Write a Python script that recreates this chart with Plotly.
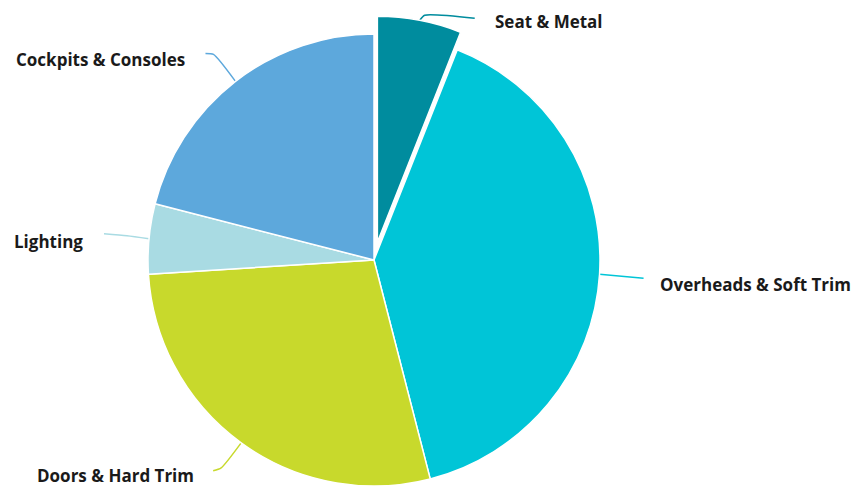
import math
import plotly.graph_objects as go

# ---- data ----
labels = ["Seat & Metal", "Overheads & Soft Trim", "Doors & Hard Trim", "Lighting", "Cockpits & Consoles"]
values = [6, 40, 28, 5, 21]
colors = ["#008C9E", "#00C5D7", "#C8D92C", "#A9DBE3", "#5DA8DC"]
pulled = [True, False, False, False, False]

# ---- layout constants (pixels) ----
W, H = 858, 487
CX, CY, R = 374, 260, 226
PULL_PX = 18
# label placement: text left x, text centre y, elbow offset, end offset (relative to anchor)
label_pos = [(494, 21), (659, 284), (36, 475), (13, 241), (15, 59)]
leader = [((5, -5), (55, -2)), ((22, 2), (44, 4)), ((-20, 25), (-28, 28)), ((-22, -3), (-45, -5)), ((-22, -27), (-30, -28))]

total = sum(values)
# slice mid angles (clockwise from 12 o'clock)
mids = []
acc = 0
for v in values:
    mids.append((acc + v / 2) / total * 2 * math.pi)
    acc += v

def domain(cx, cy):
    return dict(x=[(cx - R) / W, (cx + R) / W], y=[(H - (cy + R)) / H, (H - (cy - R)) / H])

fig = go.Figure()

# main pie (pulled slices transparent)
fig.add_trace(go.Pie(
    labels=labels, values=values, sort=False, direction="clockwise", rotation=0,
    marker=dict(colors=["rgba(0,0,0,0)" if p else c for c, p in zip(colors, pulled)],
                line=dict(color=["rgba(0,0,0,0)" if p else "white" for p in pulled], width=1.5)),
    textinfo="none", hoverinfo="label+percent", showlegend=False,
    domain=domain(CX, CY),
))

# pulled slice(s) drawn as a shifted copy
for i, p in enumerate(pulled):
    if not p:
        continue
    dx = PULL_PX * math.sin(mids[i])
    dy = -PULL_PX * math.cos(mids[i])
    fig.add_trace(go.Pie(
        labels=labels, values=values, sort=False, direction="clockwise", rotation=0,
        marker=dict(colors=[c if j == i else "rgba(0,0,0,0)" for j, c in enumerate(colors)],
                    line=dict(color=["white" if j == i else "rgba(0,0,0,0)" for j in range(len(values))], width=1.5)),
        textinfo="none", hoverinfo="label+percent", showlegend=False,
        domain=domain(CX + dx, CY + dy),
    ))

# leader lines and labels
annotations = []
for i, lab in enumerate(labels):
    off = PULL_PX if pulled[i] else 0
    ax = CX + (R + off) * math.sin(mids[i])
    ay = CY - (R + off) * math.cos(mids[i])
    (ex, ey), (fx, fy) = leader[i]
    fig.add_trace(go.Scatter(
        x=[ax, ax + ex, ax + fx], y=[ay, ay + ey, ay + fy], mode="lines",
        line=dict(color=colors[i], width=1.5, shape="spline", smoothing=0.6),
        hoverinfo="skip", showlegend=False,
    ))
    tx, ty = label_pos[i]
    annotations.append(dict(
        x=tx, y=ty, xref="x", yref="y", text=f"<b>{lab}</b>", showarrow=False,
        xanchor="left", yanchor="middle", borderpad=0,
        font=dict(family="Open Sans", size=17, color="#1a1a1a"),
    ))

fig.update_layout(
    width=W, height=H, margin=dict(l=0, r=0, t=0, b=0),
    paper_bgcolor="white", plot_bgcolor="rgba(0,0,0,0)",
    xaxis=dict(range=[0, W], visible=False, domain=[0, 1], fixedrange=True),
    yaxis=dict(range=[H, 0], visible=False, domain=[0, 1], fixedrange=True),
    annotations=annotations,
)

fig.write_html("out.html")
